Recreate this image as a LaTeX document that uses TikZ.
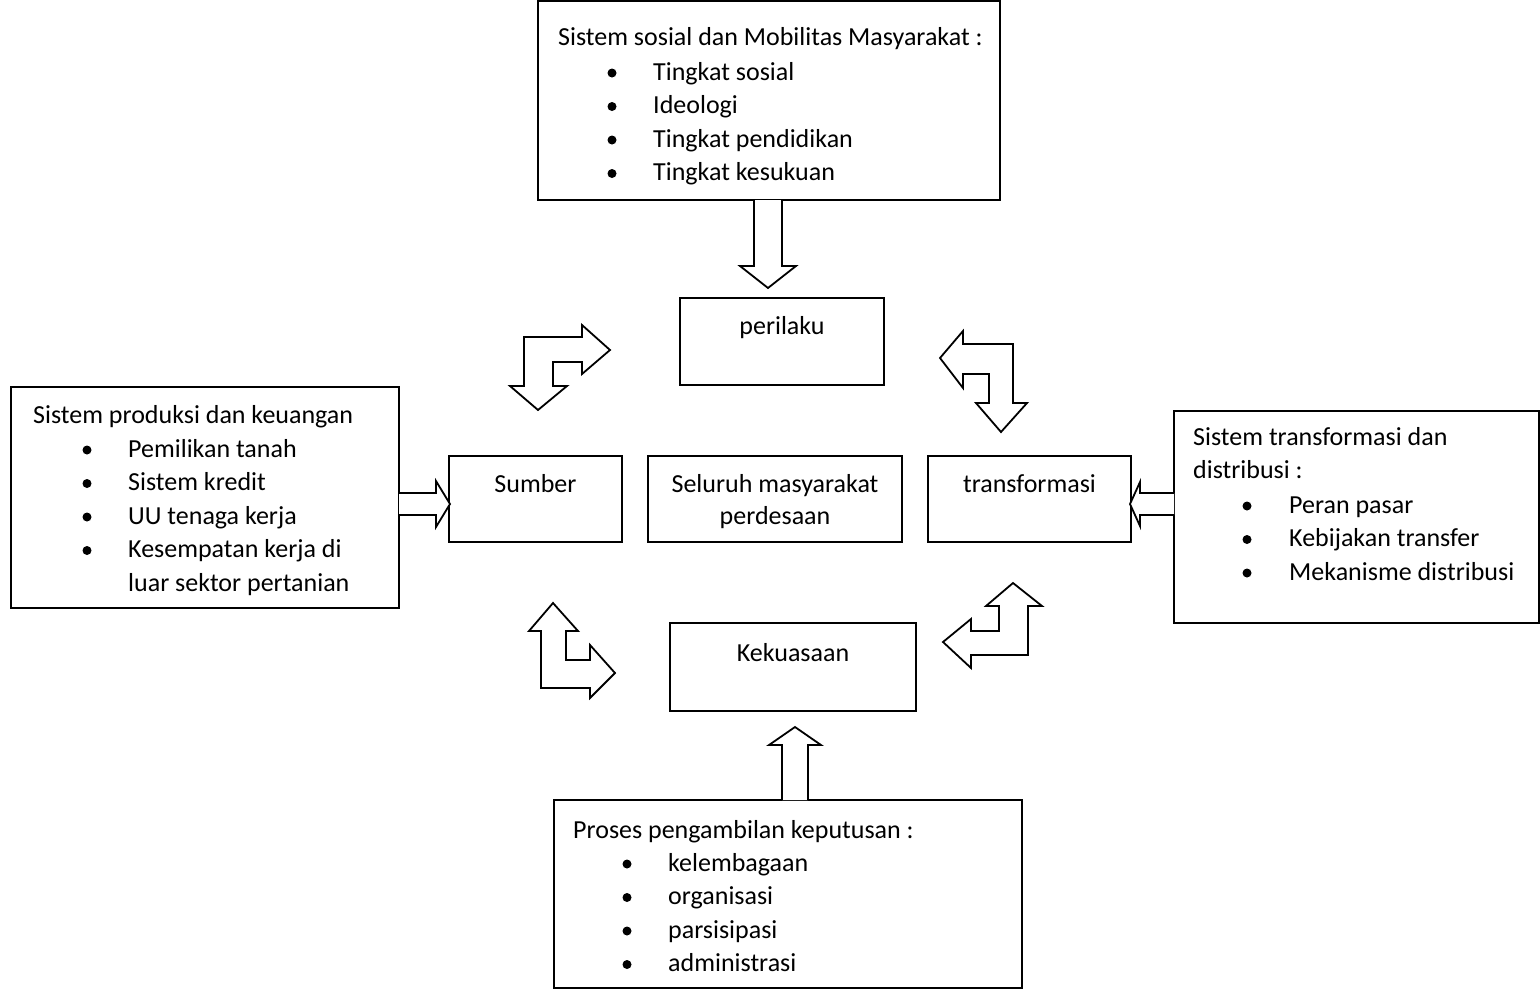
\documentclass[tikz,border=0pt]{standalone}
\usepackage{fontspec}
\setmainfont{Carlito}
\usetikzlibrary{calc}

\tikzset{
  box/.style={draw, line width=1.8pt, inner sep=0pt},
  txt/.style={anchor=base, inner sep=0pt},
  ltxt/.style={anchor=base west, inner sep=0pt},
  blockarrow/.style={draw, line width=1.8pt, fill=white, line join=miter},
}

\begin{document}
\begin{tikzpicture}[x=1pt, y=-1pt, font=\fontsize{26}{33}\selectfont]
		\useasboundingbox (0,0) rectangle (1540,989);
		% Center
		\node[box, minimum width=173, minimum height=86] (Sumber) at (535.5,499) {} ;
		\node[box, minimum width=254, minimum height=86] (Seluruh) at (775,499) {} ;
		\node[box, minimum width=203, minimum height=86] (Transformasi) at (1029.5,499) {} ;
		\node[box, minimum width=204, minimum height=87] (Perilaku) at (782,341.5) {} ;
		\node[box, minimum width=246, minimum height=88] (Kekuasaan) at (793,667) {} ;
		\node[txt] (Sumberl) at (535.5,492) {Sumber} ;
		\node[txt] (Seluruhl) at (775,492) {Seluruh masyarakat} ;
		\node[txt] (Seluruhm) at (775,524) {perdesaan} ;
		\node[txt] (Transformasil) at (1029.5,492) {transformasi} ;
		\node[txt] (Perilakul) at (782,334) {perilaku} ;
		\node[txt] (Kekuasaanl) at (793,661) {Kekuasaan} ;
		% Sosial (top)
		\node[box, minimum width=462, minimum height=199] (Sosial) at (769,100.5) {} ;
		\node[ltxt] (Sosiall) at (558,45) {Sistem sosial dan Mobilitas Masyarakat :} ;
		\foreach \t [count=\i] in {Tingkat sosial, Ideologi, Tingkat pendidikan, Tingkat kesukuan} {
			\fill (612,{80+33.5*(\i-1)-7}) circle (4.5) ;
			\node[ltxt] (Sosial\i) at (653,{80+33.5*(\i-1)}) {\t} ;
		}
		% Produksi (left)
		\node[box, minimum width=388, minimum height=221] (Produksi) at (205,497.5) {} ;
		\node[ltxt] (Produksil) at (33,423) {Sistem produksi dan keuangan} ;
		\foreach \t [count=\i] in {Pemilikan tanah, Sistem kredit, UU tenaga kerja, Kesempatan kerja di} {
			\fill (87,{457+33.5*(\i-1)-7}) circle (4.5) ;
			\node[ltxt] (Produksi\i) at (128,{457+33.5*(\i-1)}) {\t} ;
		}
		\node[ltxt] (Produksi5) at (128,591) {luar sektor pertanian} ;
		% Distribusi (right)
		\node[box, minimum width=365, minimum height=212] (Distribusi) at (1356.5,517) {} ;
		\node[ltxt] (Distribusil) at (1193,445) {Sistem transformasi dan} ;
		\node[ltxt] (Distribusim) at (1193,478) {distribusi :} ;
		\foreach \t [count=\i] in {Peran pasar, Kebijakan transfer, Mekanisme distribusi} {
			\fill (1247,{513+33.5*(\i-1)-7}) circle (4.5) ;
			\node[ltxt] (Distribusi\i) at (1289,{513+33.5*(\i-1)}) {\t} ;
		}
		% Keputusan (bottom)
		\node[box, minimum width=468, minimum height=188] (Keputusan) at (788,894) {} ;
		\node[ltxt] (Keputusanl) at (573,838) {Proses pengambilan keputusan :} ;
		\foreach \t [count=\i] in {kelembagaan, organisasi, parsisipasi, administrasi} {
			\fill (627,{871+33.5*(\i-1)-7}) circle (4.5) ;
			\node[ltxt] (Keputusan\i) at (668,{871+33.5*(\i-1)}) {\t} ;
		}
		% straight arrows
		\draw[blockarrow] (754,200) -- (754,266) -- (740,266) -- (768,288) -- (796,266) -- (782,266) -- (782,200) ;
		\draw[blockarrow] (782,800) -- (782,745) -- (769,745) -- (795,727) -- (821,745) -- (808,745) -- (808,800) ;
		\draw[blockarrow] (399,493) -- (436,493) -- (436,481) -- (450,504) -- (436,527) -- (436,515) -- (399,515) ;
		\draw[blockarrow] (1174,493) -- (1140,493) -- (1140,482) -- (1130,504) -- (1140,526) -- (1140,515) -- (1174,515) ;
		% bent arrows
		\draw[blockarrow] (524,337) -- (582,337) -- (582,325) -- (610,350) -- (582,374) -- (582,362) -- (553,362) -- (553,386) -- (567,386) -- (538,410) -- (510,386) -- (524,386) -- cycle ;
		\draw[blockarrow] (940,358) -- (963,331) -- (963,344) -- (1013,344) -- (1013,403) -- (1027,403) -- (1001,432) -- (976,403) -- (989,403) -- (989,374) -- (963,374) -- (963,388) -- cycle ;
		\draw[blockarrow] (553,603) -- (578,631) -- (566,631) -- (566,660) -- (590,660) -- (590,645) -- (615,673) -- (590,698) -- (590,688) -- (541,688) -- (541,631) -- (529,631) -- cycle ;
		\draw[blockarrow] (1013,583) -- (1042,606) -- (1028,606) -- (1028,655) -- (971,655) -- (971,668) -- (943,642) -- (971,619) -- (971,631) -- (999,631) -- (999,606) -- (986,606) -- cycle ;
	\end{tikzpicture}
\end{document}
